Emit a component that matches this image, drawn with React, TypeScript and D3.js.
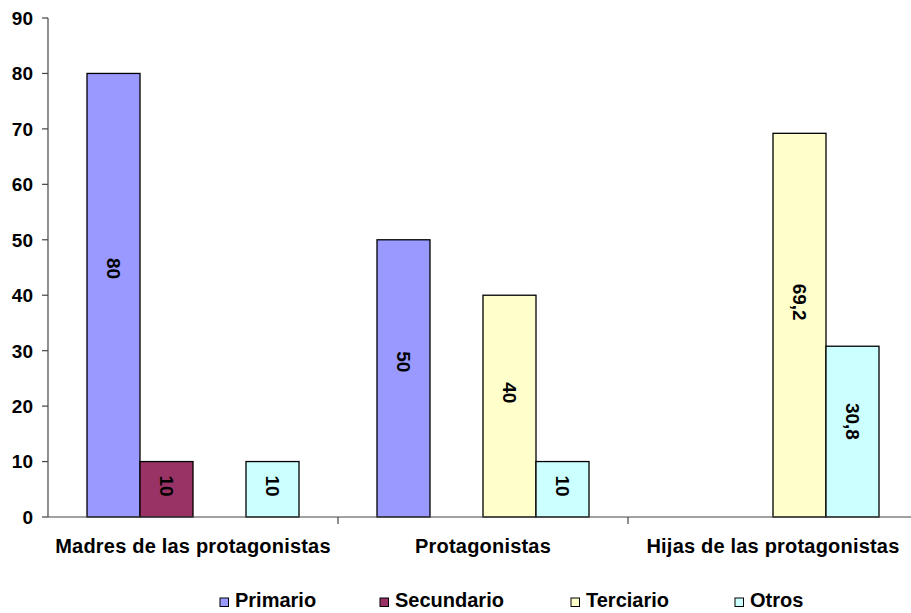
import React from "react";
import * as d3 from "d3";

const categories = ["Madres de las protagonistas", "Protagonistas", "Hijas de las protagonistas"];
const seriesNames = ["Primario", "Secundario", "Terciario", "Otros"];
const primario = [80, 50, null];
const secundario = [10, null, null];
const terciario = [null, 40, 69.2];
const otros = [10, 10, 30.8];
const colors = ["#9999FF", "#993366", "#FFFFCC", "#CCFFFF"];
const yTicks = [0, 10, 20, 30, 40, 50, 60, 70, 80, 90];

const W = 911, H = 613;
const left = 48, right = 918, top = 18, bottom = 517;

export default function App() {
  const series = [primario, secundario, terciario, otros];
  const y = d3.scaleLinear().domain([0, 90]).range([bottom, top]);
  const x0 = d3.scaleBand<string>().domain(categories).range([left, right]).paddingInner(0).paddingOuter(0);
  const bw = x0.bandwidth();
  const pad = 39;
  const x1 = d3.scaleBand<string>().domain(seriesNames).range([pad, bw - pad]).padding(0);
  const font = "'Liberation Sans', Arial, sans-serif";
  const fmt = (v: number) => String(v).replace(".", ",");
  const legendX = [220, 380, 571, 735];

  return (
    <svg width={W} height={H} style={{ position: "absolute", left: 0, top: 0 }} fontFamily={font}>
      <rect width={W} height={H} fill="#fff" />
      {categories.map((c, ci) =>
        series.map((s, si) => {
          const v = s[ci];
          if (v == null) return null;
          const bx = (x0(c) as number) + (x1(seriesNames[si]) as number);
          const by = y(v);
          return (
            <rect key={c + si} x={bx} y={by} width={x1.bandwidth()} height={bottom - by}
              fill={colors[si]} stroke="#000" strokeWidth={1.3} />
          );
        })
      )}
      {categories.map((c, ci) =>
        series.map((s, si) => {
          const v = s[ci];
          if (v == null) return null;
          const cx = (x0(c) as number) + (x1(seriesNames[si]) as number) + x1.bandwidth() / 2;
          const cy = y(v * 0.56);
          return (
            <text key={"l" + c + si} transform={`translate(${cx},${cy}) rotate(90)`} textAnchor="middle"
              dy="0.35em" fontSize={19} fontWeight="bold" fill="#000">{fmt(v)}</text>
          );
        })
      )}
      <line x1={left} x2={left} y1={top} y2={bottom} stroke="#444" strokeWidth={1.2} />
      {yTicks.map(t => (
        <g key={t}>
          <line x1={left - 6} x2={left} y1={y(t)} y2={y(t)} stroke="#444" strokeWidth={1.2} />
          <text x={33} y={y(t)} dy="0.36em" textAnchor="end" fontSize={19} fontWeight="bold">{t}</text>
        </g>
      ))}
      <line x1={left} x2={right} y1={bottom} y2={bottom} stroke="#444" strokeWidth={1.2} />
      {categories.map((c, ci) => (
        <line key={"t" + ci} x1={(x0(c) as number) + bw} x2={(x0(c) as number) + bw} y1={bottom} y2={bottom + 7}
          stroke="#444" strokeWidth={1.2} />
      ))}
      {categories.map(c => (
        <text key={"c" + c} x={(x0(c) as number) + bw / 2} y={553} textAnchor="middle" fontSize={20}
          fontWeight="bold" letterSpacing={0.2}>{c}</text>
      ))}
      {seriesNames.map((n, i) => (
        <g key={n}>
          <rect x={legendX[i]} y={598} width={8.5} height={8.5} fill={colors[i]} stroke="#000" strokeWidth={1} />
          <text x={legendX[i] + 15} y={607} fontSize={20} fontWeight="bold">{n}</text>
        </g>
      ))}
    </svg>
  );
}
